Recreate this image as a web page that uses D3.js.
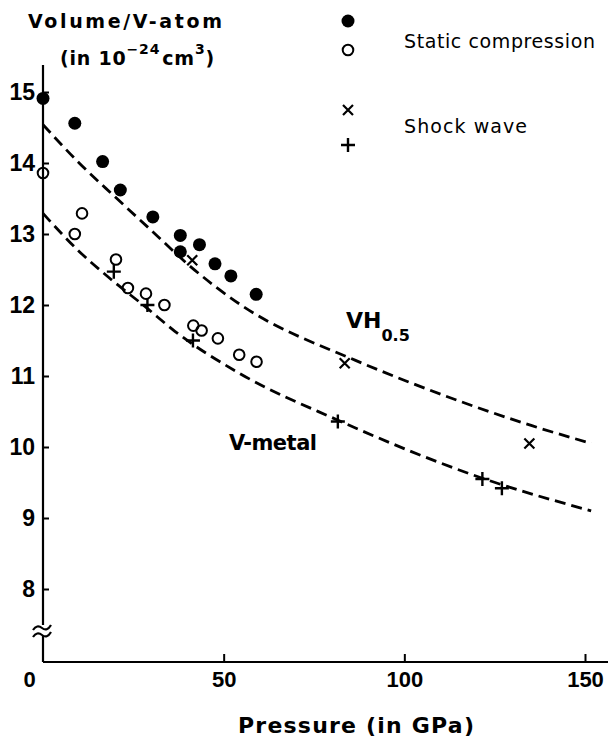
<!DOCTYPE html>
<html>
<head>
<meta charset="utf-8">
<script src="https://cdn.jsdelivr.net/npm/d3@7"></script>
<style>
  body{margin:0;background:#fff;}
  text{font-family:"DejaVu Sans",sans-serif;font-weight:bold;fill:#000;}
  .tick text{font-family:"Liberation Sans",Arial,sans-serif;}
</style>
</head>
<body>
<svg id="chart" width="615" height="740"></svg>
<script>
// [pressure GPa, volume per V atom 1e-24 cm3]
var static_vh=[[0,14.91],[8.8,14.56],[16.5,14.02],[21.4,13.62],[30.4,13.24],[38,12.98],[38,12.75],[43.3,12.85],[47.6,12.58],[52,12.41],[59,12.15]];
var static_v=[[0,13.86],[8.8,13.0],[10.8,13.29],[20.2,12.64],[23.5,12.24],[28.5,12.16],[33.6,12.0],[41.6,11.71],[43.9,11.64],[48.4,11.53],[54.3,11.30],[59.1,11.2]];
var shock_vh=[[41.3,12.63],[83.5,11.18],[134.6,10.05]];
var shock_v=[[19.6,12.47],[28.9,12.0],[41.5,11.5],[81.6,10.36],[121.6,9.55],[127,9.42]];
// dashed fitted curves
var fit_vh=[[0,14.54],[10,14.0],[20,13.52],[30,13.05],[40.4,12.56],[54.8,12.0],[86.5,11.22],[101,10.92],[135.3,10.3],[151.8,10.05]];
var fit_v=[[0,13.29],[9.7,12.77],[19.1,12.35],[28.2,11.98],[36.5,11.63],[54.3,11.04],[81.5,10.38],[121.6,9.56],[151.7,9.1]];
var x_ticks=[0,50,100,150];
var y_ticks=[8,9,10,11,12,13,14,15];

var svg=d3.select('#chart');
var x=d3.scaleLinear().domain([0,150]).range([43,585]);
var y=d3.scaleLinear().domain([8,15]).range([589,92]);
var x0=x(0);
var yb=662;

// y axis, ticks inward, labels left
var yax=svg.append('g').attr('transform','translate('+x0+',0)')
  .call(d3.axisLeft(y).tickValues(y_ticks).tickFormat(d3.format('d')).tickSizeInner(-6).tickSizeOuter(0).tickPadding(8));
yax.select('.domain').remove();
yax.selectAll('line').attr('stroke','#000').attr('stroke-width',2);
yax.selectAll('text').attr('font-size',23).attr('font-family',null);

// x axis, ticks up, labels below
var xax=svg.append('g').attr('transform','translate(0,'+yb+')')
  .call(d3.axisBottom(x).tickValues(x_ticks).tickFormat(d3.format('d')).tickSizeInner(-8).tickSizeOuter(0).tickPadding(9));
xax.select('.domain').remove();
xax.selectAll('line').attr('stroke','#000').attr('stroke-width',2);
xax.selectAll('text').attr('font-size',22).attr('font-family',null)
  .attr('dx',function(d){return d===0?-14:0;});
xax.selectAll('.tick').filter(function(d){return d===0;}).select('line').remove();

// axis lines, with the break on the y axis
var ax=svg.append('g').attr('stroke','#000').attr('fill','none').attr('stroke-width',2.2);
ax.append('line').attr('x1',x0).attr('x2',608).attr('y1',yb).attr('y2',yb);
ax.append('line').attr('x1',x0).attr('x2',x0).attr('y1',65).attr('y2',625);
ax.append('line').attr('x1',x0).attr('x2',x0).attr('y1',636).attr('y2',yb);
ax.append('path').attr('d','M'+(x0-10)+',630 q4,-6 9,-2 t9,-3');
ax.append('path').attr('d','M'+(x0-10)+',637 q4,-6 9,-2 t9,-3');

// fitted curves
var line=d3.line().x(function(d){return x(d[0]);}).y(function(d){return y(d[1]);}).curve(d3.curveMonotoneX);
[fit_vh,fit_v].forEach(function(c){
  svg.append('path').attr('d',line(c)).attr('fill','none').attr('stroke','#000')
    .attr('stroke-width',2.8).attr('stroke-dasharray','11,6');
});

// markers
function cross(g,cx,cy,s){
  g.append('path').attr('d','M'+(cx-s)+','+(cy-s)+'L'+(cx+s)+','+(cy+s)+'M'+(cx-s)+','+(cy+s)+'L'+(cx+s)+','+(cy-s))
    .attr('stroke','#000').attr('stroke-width',2.2).attr('fill','none');
}
function plus(g,cx,cy,s){
  g.append('path').attr('d','M'+(cx-s)+','+cy+'L'+(cx+s)+','+cy+'M'+cx+','+(cy-s)+'L'+cx+','+(cy+s))
    .attr('stroke','#000').attr('stroke-width',2.4).attr('fill','none');
}
var pts=svg.append('g');
pts.selectAll('circle.f').data(static_vh).enter().append('circle')
  .attr('cx',function(d){return x(d[0]);}).attr('cy',function(d){return y(d[1]);})
  .attr('r',6.5).attr('fill','#000');
pts.selectAll('circle.o').data(static_v).enter().append('circle')
  .attr('cx',function(d){return x(d[0]);}).attr('cy',function(d){return y(d[1]);})
  .attr('r',5.3).attr('fill','none').attr('stroke','#000').attr('stroke-width',2);
shock_vh.forEach(function(d){cross(pts,x(d[0]),y(d[1]),5);});
shock_v.forEach(function(d){plus(pts,x(d[0]),y(d[1]),7);});

// legend
var lg=svg.append('g');
lg.append('circle').attr('cx',348).attr('cy',21).attr('r',6.5).attr('fill','#000');
lg.append('circle').attr('cx',348).attr('cy',50).attr('r',5.3).attr('fill','none').attr('stroke','#000').attr('stroke-width',2);
cross(lg,348,110,5);
plus(lg,348,145,7);
lg.append('text').attr('x',404).attr('y',48).attr('font-size',19).style('font-weight','normal').attr('textLength',191).text('Static compression');
lg.append('text').attr('x',404).attr('y',133).attr('font-size',19).style('font-weight','normal').attr('textLength',123).text('Shock wave');

// curve labels
var vh=svg.append('text').attr('x',346).attr('y',328).attr('font-size',22);
vh.append('tspan').text('VH');
vh.append('tspan').attr('font-size',16).attr('dy',13).text('0.5');
svg.append('text').attr('x',229).attr('y',450).attr('font-size',21).attr('textLength',88).text('V-metal');

// axis titles
svg.append('text').attr('x',28).attr('y',28).attr('font-size',19).attr('textLength',194).text('Volume/V-atom');
var t2=svg.append('text').attr('x',60).attr('y',65).attr('font-size',19).attr('letter-spacing',0.8);
t2.append('tspan').text('(in 10');
t2.append('tspan').attr('font-size',14).attr('dy',-11).text('\u221224');
t2.append('tspan').attr('dy',11).attr('dx',2).text('cm');
t2.append('tspan').attr('font-size',14).attr('dy',-11).text('3');
t2.append('tspan').attr('dy',11).text(')');
svg.append('text').attr('x',238).attr('y',733).attr('font-size',22).attr('textLength',236).text('Pressure (in GPa)');
</script>
</body>
</html>
